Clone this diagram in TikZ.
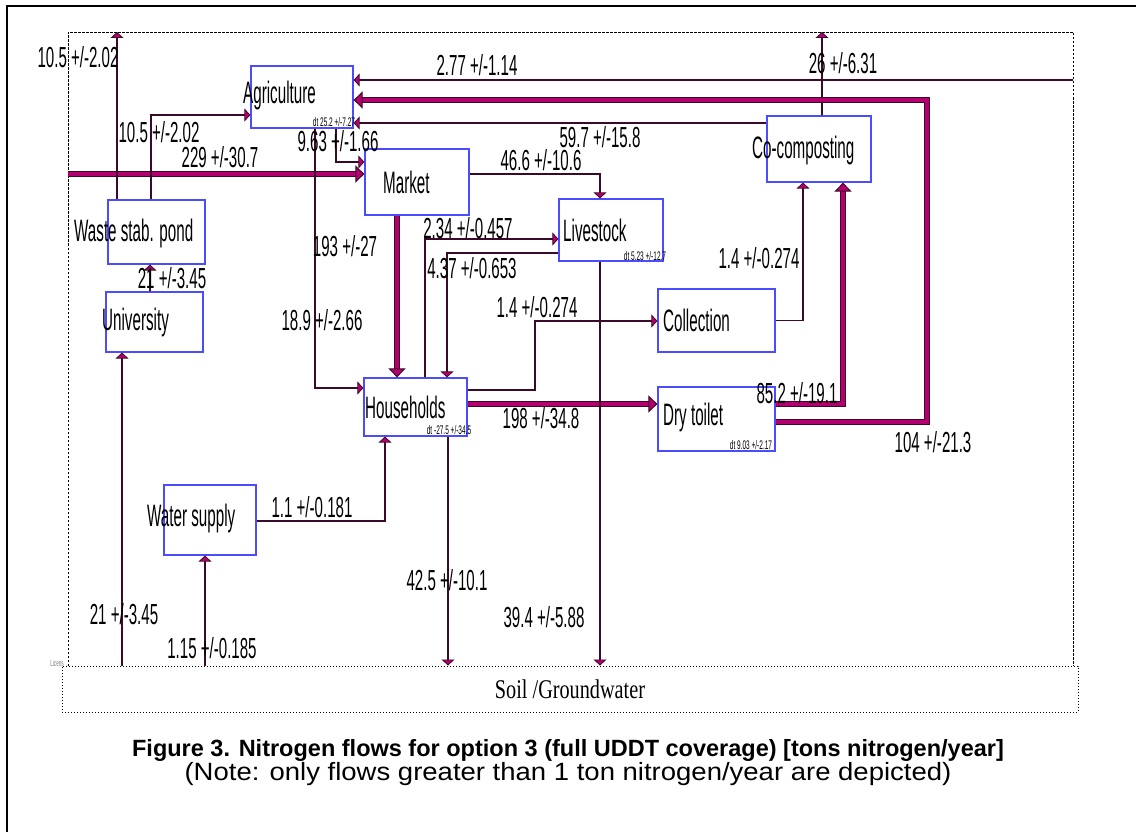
\documentclass[tikz,border=0pt]{standalone}
\usepackage{fontspec}
\setmainfont{Liberation Sans}
\newfontfamily\stanfont[FakeStretch=0.52]{Liberation Sans}
\newfontfamily\stannamefont[FakeStretch=0.49]{Liberation Sans}
\newfontfamily\notefont[FakeStretch=1.1]{Liberation Sans}
\newfontfamily\soilfont[FakeStretch=0.75]{Liberation Serif}
\usetikzlibrary{arrows.meta,positioning}
\definecolor{flowmag}{HTML}{B4006E}
\definecolor{flowdark}{HTML}{3A0A28}
\definecolor{procblue}{HTML}{4B4BFF}

\begin{document}
\begin{tikzpicture}[x=1pt, y=-1pt,
    proc/.style={draw=procblue, line width=1.2pt, fill=white, inner sep=0pt},
    pname/.style={anchor=west, inner sep=0pt, font=\stannamefont\fontsize{31}{33}\selectfont},
    flowlbl/.style={inner sep=0pt, font=\stanfont\fontsize{29}{31}\selectfont},
    dtlbl/.style={inner sep=0pt, font=\stanfont\fontsize{12.5}{13}\selectfont},
    thinflow/.style={draw=flowdark, line width=1.6pt,
      -{Triangle[width=13pt,length=6pt,fill=flowmag,color=flowdark,line width=0.8pt]}},
    thickflow/.style={draw=flowmag, line width=4pt,
      -{Triangle[width=17pt,length=9pt,fill=flowmag,color=flowdark,line width=1pt]},
      preaction={draw=flowdark, line width=6.5pt, arrows=-, shorten >=6pt}}]

  \fill[white] (0,0) rectangle (1136,832);
  \useasboundingbox (0,0) rectangle (1136,832);

  %% Frame and system boundary
  \draw[line width=2.2pt] (7,832) -- (7,6) -- (1136,6);
  \draw[line width=0.8pt, dash pattern=on 2.5pt off 1.5pt]
    (68,666) -- (68,32) -- (1073,32) -- (1073,666);
  \node[draw, dotted, line width=1pt, minimum width=1016pt, minimum height=46pt,
        font=\soilfont\fontsize{27}{29}\selectfont] (soil) at (570,689)
    {Soil /Groundwater};
  \node[anchor=south east, inner sep=0pt, text=gray,
        font=\stanfont\fontsize{9}{9}\selectfont] (lic) at (64,667) {Licens};

  %% ── Processes ─────────────────────────────
  \node[proc, minimum width=102pt, minimum height=62pt] (agri)  at (302,97) {};
  \node[proc, minimum width=104pt, minimum height=66pt] (mkt)   at (417,182) {};
  \node[proc, minimum width=104pt, minimum height=62pt] (live)  at (611,230) {};
  \node[proc, minimum width=104pt, minimum height=66pt] (comp)  at (819,149) {};
  \node[proc, minimum width=97pt,  minimum height=64pt] (wsp)   at (156.5,232) {};
  \node[proc, minimum width=97pt,  minimum height=60pt] (uni)   at (154.5,322) {};
  \node[proc, minimum width=92pt,  minimum height=70pt] (water) at (210,520) {};
  \node[proc, minimum width=103pt, minimum height=58pt] (hh)    at (415.5,407) {};
  \node[proc, minimum width=117pt, minimum height=63pt] (coll)  at (716.5,320.5) {};
  \node[proc, minimum width=117pt, minimum height=64pt] (dry)   at (716.5,419) {};

  %% ── Flows ─────────────────────────────────
  \coordinate (impM) at (68,174);
  \coordinate (impA) at (1073,80);
  \coordinate (expW) at (117,32);
  \coordinate (expC) at (822,32);
  \coordinate (bend104) at (927,100);
  \coordinate (bend14) at (535,321);

  \draw[thickflow] (impM) -- (impM -| mkt.west);                  % 229
  \draw[thinflow] (impA) -- (impA -| agri.east);                  % 2.77
  \draw[thinflow] ([xshift=-39.5pt]wsp.north) -- (expW);          % 10.5 out
  \draw[thinflow] ([xshift=3pt]comp.north) -- (expC);             % 26 out
  \draw[thinflow] ([xshift=-5.5pt]wsp.north) |- ([yshift=-18pt]agri.west);
  \draw[thinflow] ([xshift=34pt]agri.south) |- ([yshift=20pt]mkt.west);
  \draw[thinflow] ([xshift=13pt]agri.south) |- ([yshift=19pt]hh.west);
  \draw[thickflow] ([yshift=-3pt]dry.east) -| (bend104) -- (bend104 -| agri.east);
  \draw[thickflow] ([yshift=15pt]dry.east) -| ([xshift=24pt]comp.south);
  \draw[thinflow] (coll.east) -| ([xshift=-16pt]comp.south);
  \coordinate (c597) at ([yshift=26pt]comp.west);
  \draw[thinflow] (c597) -- (c597 -| agri.east);                  % 59.7
  \draw[thinflow] ([yshift=8pt]mkt.east) -| ([xshift=-11pt]live.north);
  \draw[thickflow] ([xshift=-20pt]mkt.south) -- ([xshift=-18.5pt]hh.north);
  \draw[thinflow] ([xshift=9.5pt]hh.north) |- ([yshift=-9pt]live.west);
  \draw[thinflow] ([yshift=-23pt]live.west) -| ([xshift=31.5pt]hh.north);
  \draw[thinflow] ([yshift=17pt]hh.east) -| (bend14) -- (bend14 -| coll.west);
  \coordinate (c198) at ([yshift=3pt]hh.east);
  \draw[thickflow] (c198) -- (c198 -| dry.west);                  % 198
  \coordinate (c21) at ([xshift=-4.5pt]uni.north);
  \draw[thinflow] (c21) -- (c21 |- wsp.south);                    % 21
  \coordinate (cU) at ([xshift=-32.5pt]uni.south);
  \draw[thinflow] (cU |- soil.north) -- (cU);                     % 21 from soil
  \coordinate (cW) at ([xshift=-5pt]water.south);
  \draw[thinflow] (cW |- soil.north) -- (cW);                     % 1.15
  \draw[thinflow] ([yshift=-1pt]water.east) -| ([xshift=-30.5pt]hh.south);
  \coordinate (c425) at ([xshift=32.5pt]hh.south);
  \draw[thinflow] (c425) -- (c425 |- soil.north);                 % 42.5
  \coordinate (c394) at ([xshift=-11pt]live.south);
  \draw[thinflow] (c394) -- (c394 |- soil.north);                 % 39.4

  %% ── Process names and stock changes ───────
  \node[pname] (nAgri)  at (243,95)  {Agriculture};
  \node[pname] (nMkt)   at (383,182) {Market};
  \node[pname] (nLive)  at (563,230) {Livestock};
  \node[pname] (nComp)  at (752,150) {Co-composting};
  \node[pname] (nWsp)   at (74,233)  {Waste stab. pond};
  \node[pname] (nUni)   at (102,322) {University};
  \node[pname] (nWater) at (147,518) {Water supply};
  \node[pname] (nHh)    at (365,407) {Households};
  \node[pname] (nColl)  at (663,320) {Collection};
  \node[pname] (nDry)   at (663,417) {Dry toilet};

  \node[dtlbl] (dAgri) at (334,122) {dt 25.2 +/-7.27};
  \node[dtlbl] (dLive) at (645,256) {dt 5.23 +/-12.7};
  \node[dtlbl] (dHh)   at (449,430) {dt -27.5 +/-34.5};
  \node[dtlbl] (dDry)  at (751,445) {dt 9.03 +/-2.17};

  %% ── Flow values ───────────────────────────
  \node[flowlbl] (v105a) at (78,57)   {10.5 +/-2.02};
  \node[flowlbl] (v105b) at (159,132) {10.5 +/-2.02};
  \node[flowlbl] (v229)  at (220,157) {229 +/-30.7};
  \node[flowlbl] (v963)  at (338,141) {9.63 +/-1.66};
  \node[flowlbl] (v277)  at (477,65)  {2.77 +/-1.14};
  \node[flowlbl] (v597)  at (600,137) {59.7 +/-15.8};
  \node[flowlbl] (v26)   at (843,63)  {26 +/-6.31};
  \node[flowlbl] (v466)  at (541,160) {46.6 +/-10.6};
  \node[flowlbl] (v193)  at (345,246) {193 +/-27};
  \node[flowlbl] (v234)  at (468,228) {2.34 +/-0.457};
  \node[flowlbl] (v437)  at (472,268) {4.37 +/-0.653};
  \node[flowlbl] (v14a)  at (759,258) {1.4 +/-0.274};
  \node[flowlbl] (v21a)  at (172,278) {21 +/-3.45};
  \node[flowlbl] (v189)  at (322,320) {18.9 +/-2.66};
  \node[flowlbl] (v14b)  at (537,307) {1.4 +/-0.274};
  \node[flowlbl] (v198)  at (541,418) {198 +/-34.8};
  \node[flowlbl] (v852)  at (797,393) {85.2 +/-19.1};
  \node[flowlbl] (v104)  at (933,442) {104 +/-21.3};
  \node[flowlbl] (v11)   at (312,507) {1.1 +/-0.181};
  \node[flowlbl] (v425)  at (447,580) {42.5 +/-10.1};
  \node[flowlbl] (v394)  at (544,617) {39.4 +/-5.88};
  \node[flowlbl] (v21b)  at (124,614) {21 +/-3.45};
  \node[flowlbl] (v115)  at (212,648) {1.15 +/-0.185};

  %% ── Caption ───────────────────────────────
  \node[inner sep=0pt, font=\bfseries\fontsize{23.5}{26}\selectfont] (cap) at (568,750)
    {Figure 3. Nitrogen flows for option 3 (full UDDT coverage) [tons nitrogen/year]};
  \node[inner sep=0pt, font=\notefont\fontsize{25}{27}\selectfont] (note) at (568,774)
    {(Note: only flows greater than 1 ton nitrogen/year are depicted)};

\end{tikzpicture}
\end{document}
